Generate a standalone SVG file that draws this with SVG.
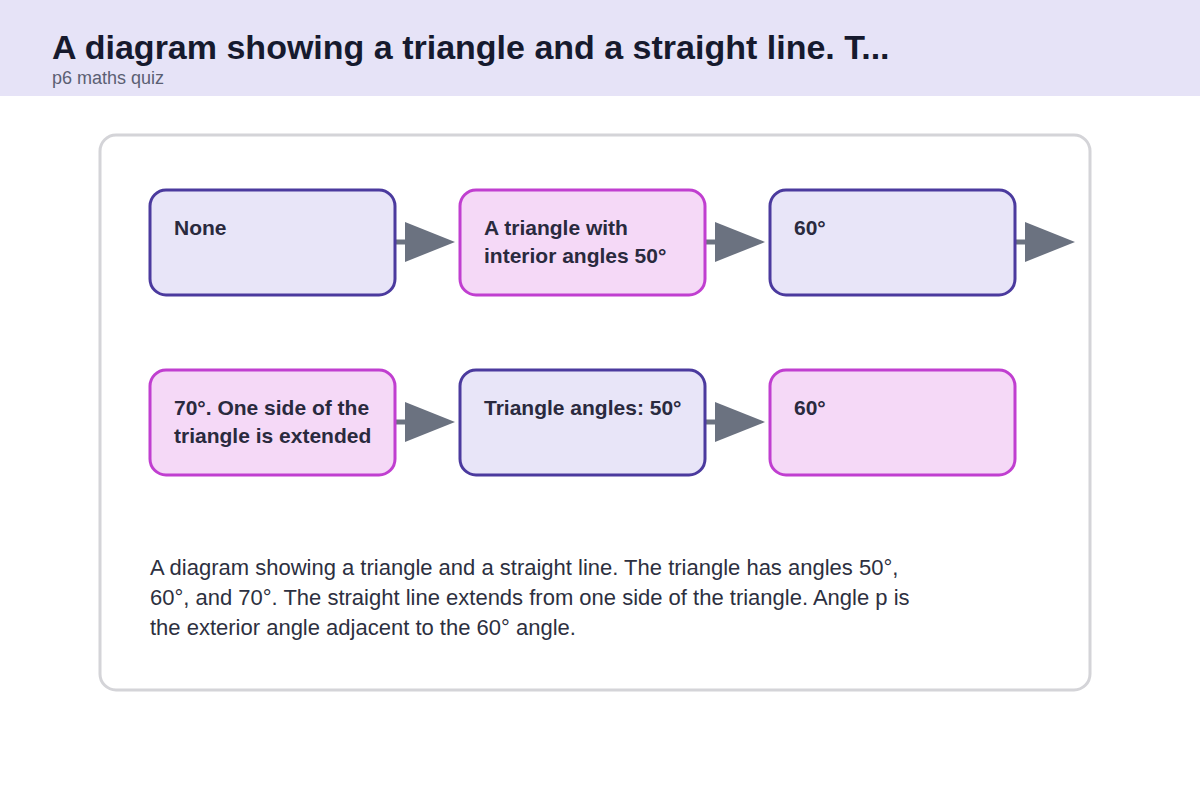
<svg xmlns="http://www.w3.org/2000/svg" width="1200" height="800" viewBox="0 0 1200 800">
  <style>
    .title { font-family: "Liberation Sans", Arial, sans-serif; font-size: 34px; font-weight: bold; fill: #161a2e; }
    .sub { font-family: "Liberation Sans", Arial, sans-serif; font-size: 18px; fill: #5b5f73; }
    .lav { fill: #e8e5f8; stroke: #4b3a9e; stroke-width: 3; }
    .pink { fill: #f5d9f7; stroke: #c03fd0; stroke-width: 3; }
    .lbl { font-family: "Liberation Sans", Arial, sans-serif; font-size: 21px; font-weight: bold; fill: #2a2a3e; }
    .desc { font-family: "Liberation Sans", Arial, sans-serif; font-size: 22px; fill: #2d3040; }
    .conn { stroke: #6b7280; stroke-width: 5; fill: none; marker-end: url(#arrow); }
  </style>
  <defs>
    <marker id="arrow" markerUnits="userSpaceOnUse" markerWidth="50" markerHeight="40" refX="0" refY="20" orient="auto">
      <path d="M0,0 L50,20 L0,40 z" fill="#6b7280"/>
    </marker>
  </defs>
  <rect x="0" y="0" width="1200" height="800" fill="#ffffff"/>
  <rect x="0" y="0" width="1200" height="96" fill="#e6e3f7"/>
  <text class="title" x="52" y="59">A diagram showing a triangle and a straight line. T...</text>
  <text class="sub" x="52" y="84">p6 maths quiz</text>
  <rect x="100" y="135" width="990" height="555" rx="16" fill="#ffffff" stroke="#d4d4d8" stroke-width="3"/>
  <g id="connectors">
    <line class="conn" x1="396" y1="242" x2="405" y2="242"/>
    <line class="conn" x1="706" y1="242" x2="715" y2="242"/>
    <line class="conn" x1="1016" y1="242" x2="1025" y2="242"/>
    <line class="conn" x1="396" y1="422" x2="405" y2="422"/>
    <line class="conn" x1="706" y1="422" x2="715" y2="422"/>
  </g>
  <g id="n1">
    <rect class="lav" x="150" y="190" width="245" height="105" rx="16"/>
    <text class="lbl" x="174" y="235">None</text>
  </g>
  <g id="n2">
    <rect class="pink" x="460" y="190" width="245" height="105" rx="16"/>
    <text class="lbl" x="484" y="235">A triangle with</text>
    <text class="lbl" x="484" y="263">interior angles 50°</text>
  </g>
  <g id="n3">
    <rect class="lav" x="770" y="190" width="245" height="105" rx="16"/>
    <text class="lbl" x="794" y="235">60°</text>
  </g>
  <g id="n4">
    <rect class="pink" x="150" y="370" width="245" height="105" rx="16"/>
    <text class="lbl" x="174" y="415">70°. One side of the</text>
    <text class="lbl" x="174" y="443">triangle is extended</text>
  </g>
  <g id="n5">
    <rect class="lav" x="460" y="370" width="245" height="105" rx="16"/>
    <text class="lbl" x="484" y="415">Triangle angles: 50°</text>
  </g>
  <g id="n6">
    <rect class="pink" x="770" y="370" width="245" height="105" rx="16"/>
    <text class="lbl" x="794" y="415">60°</text>
  </g>
  <g id="description">
    <text class="desc" x="150" y="575">A diagram showing a triangle and a straight line. The triangle has angles 50°,</text>
    <text class="desc" x="150" y="605">60°, and 70°. The straight line extends from one side of the triangle. Angle p is</text>
    <text class="desc" x="150" y="635">the exterior angle adjacent to the 60° angle.</text>
  </g>
</svg>
